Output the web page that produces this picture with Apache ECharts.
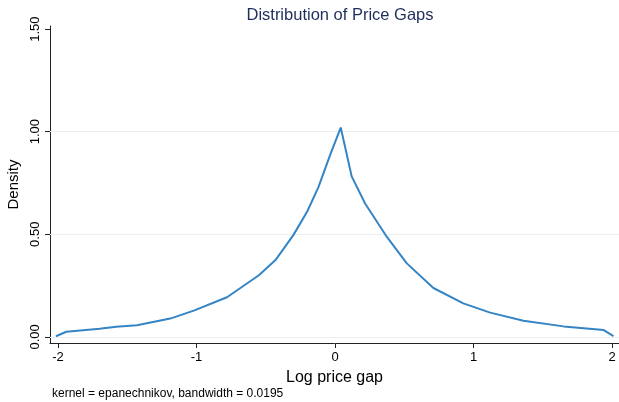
<!DOCTYPE html>
<html>
<head>
<meta charset="utf-8">
<script src="https://cdn.jsdelivr.net/npm/echarts@6/dist/echarts.min.js"></script>
<style>
html,body{margin:0;padding:0;background:#fff;}
#c{width:619px;height:402px;}
</style>
</head>
<body>
<div id="c"></div>
<script>
const xValues = [-2.015,-1.94,-1.70,-1.58,-1.43,-1.19,-1.02,-0.78,-0.55,-0.43,-0.30,-0.20,-0.12,-0.036,0.041,0.12,0.217,0.373,0.518,0.71,0.926,1.12,1.36,1.65,1.94,2.01];
const densityValues = [0.003,0.025,0.039,0.049,0.056,0.089,0.128,0.193,0.300,0.374,0.497,0.612,0.73,0.886,1.02,0.782,0.65,0.488,0.358,0.238,0.163,0.118,0.078,0.051,0.033,0.004];
const xTicks = [-2,-1,0,1,2];
const yTicks = [0,0.5,1,1.5];
const yGrid = [0,0.5,1];

const font = '"Liberation Sans", Arial, Helvetica, sans-serif';
const chart = echarts.init(document.getElementById('c'), null, {renderer:'canvas'});
chart.setOption({
  animation:false,
  backgroundColor:'#fff',
  title:[{
    text:'Distribution of Price Gaps',
    left:335, top:2, textAlign:'center',
    textStyle:{fontFamily:font,fontSize:16.5,fontWeight:'normal',color:'#1e2d5c'}
  },{
    text:'kernel = epanechnikov, bandwidth = 0.0195',
    left:47, top:383,
    textStyle:{fontFamily:font,fontSize:12,fontWeight:'normal',color:'#000'}
  }],
  grid:{left:50,right:0,top:26,bottom:59,containLabel:false,outerBoundsMode:'none'},
  xAxis:{
    type:'value', min:-2.058, max:2.05,
    name:'Log price gap', nameLocation:'middle', nameGap:27,
    nameTextStyle:{fontFamily:font,fontSize:16,color:'#000'},
    axisLine:{onZero:false,lineStyle:{color:'#222',width:1}},
    axisTick:{show:true,length:5,customValues:xTicks,lineStyle:{color:'#222'}},
    axisLabel:{customValues:xTicks,fontFamily:font,fontSize:13,color:'#000',margin:8,
      formatter:v=>String(Math.round(v))},
    splitLine:{show:false}
  },
  yAxis:{
    type:'value', min:-0.03, max:1.515,
    name:'Density', nameLocation:'middle', nameGap:28,
    nameTextStyle:{fontFamily:font,fontSize:15,color:'#000'},
    axisLine:{show:true,onZero:false,lineStyle:{color:'#222',width:1}},
    axisTick:{show:true,length:5,customValues:yTicks,lineStyle:{color:'#222'}},
    axisLabel:{customValues:yTicks,rotate:90,fontFamily:font,fontSize:13,color:'#000',margin:8,
      formatter:v=>v.toFixed(2)},
    splitLine:{show:false}
  },
  series:[{
    type:'line',
    data:xValues.map((x,i)=>[x,densityValues[i]]),
    showSymbol:false,
    smooth:false,
    lineStyle:{color:'#3584c4',width:2},
    itemStyle:{color:'#3584c4'},
    markLine:{
      silent:true,symbol:['none','none'],label:{show:false},
      lineStyle:{color:'#e8f0f2',width:1,type:'solid'},
      data:yGrid.map(v=>({yAxis:v})),
      z:1
    },
    z:3
  }]
});
</script>
</body>
</html>
